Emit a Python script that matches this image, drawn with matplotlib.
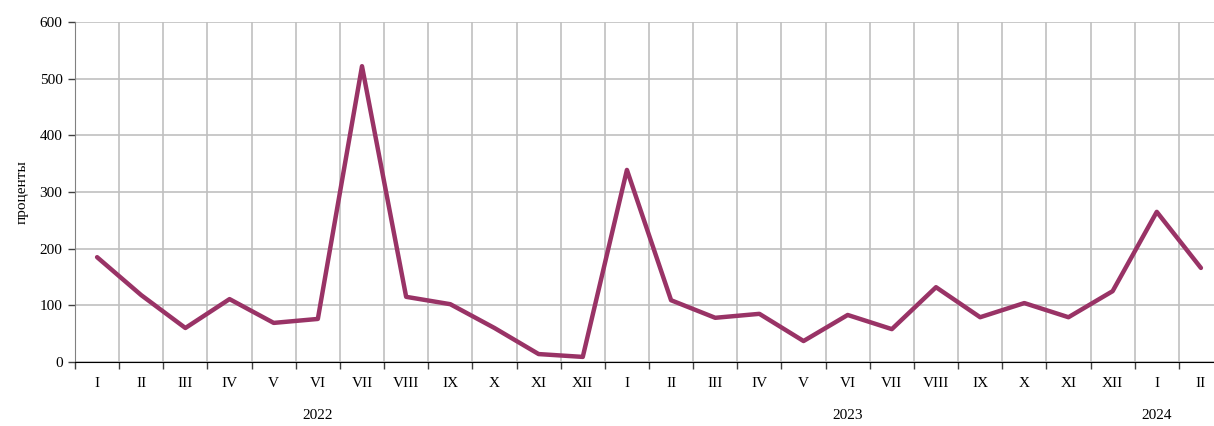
import matplotlib
matplotlib.use("Agg")
import matplotlib.pyplot as plt
import numpy as np

months = ["I", "II", "III", "IV", "V", "VI", "VII", "VIII", "IX", "X", "XI", "XII",
          "I", "II", "III", "IV", "V", "VI", "VII", "VIII", "IX", "X", "XI", "XII",
          "I", "II"]
values = [185, 118, 60, 111, 69, 76, 522, 115, 102, 60, 14, 9,
          339, 109, 78, 85, 37, 83, 58, 132, 79, 104, 79, 125,
          265, 166]
years = ["2022", "2023", "2024"]
year_pos = [5, 17, 24]

plt.rcParams['font.family'] = ['Liberation Serif', 'DejaVu Serif']

fig = plt.figure(figsize=(12.14, 4.26), dpi=100)
ax = fig.add_axes([75/1214, 64/426, (1223-75)/1214, (362-22)/426])

x = np.arange(len(values))
ax.plot(x, values, color='#993366', lw=3.2, solid_capstyle='round', solid_joinstyle='round', zorder=3)

ax.set_xlim(-0.5, len(values) - 0.5)
ax.set_ylim(0, 600)
ax.set_yticks(np.arange(0, 601, 100))
ax.tick_params(axis='y', labelsize=11, length=5, width=1, color='#404040', pad=4)

ax.set_xticks(np.arange(-0.5, len(values), 1.0))
ax.set_xticklabels([])
ax.tick_params(axis='x', which='major', length=5, width=1, color='#404040')
ax.set_xticks(x, minor=True)
ax.set_xticklabels(months, minor=True)
ax.tick_params(axis='x', which='minor', length=0, labelsize=11, pad=11)

ax.grid(True, which='major', color='#c0c0c0', lw=1.2)
ax.set_axisbelow(True)
for s in ['top', 'right']:
    ax.spines[s].set_visible(False)
ax.spines['left'].set_color('#808080')
ax.spines['bottom'].set_color('#000000')

for yr, p in zip(years, year_pos):
    ax.text(p, -0.158, yr, transform=ax.get_xaxis_transform(), ha='center', va='center', fontsize=11)

ax.set_ylabel("проценты", fontsize=11, labelpad=8)

fig.savefig("out.png", dpi=100)
